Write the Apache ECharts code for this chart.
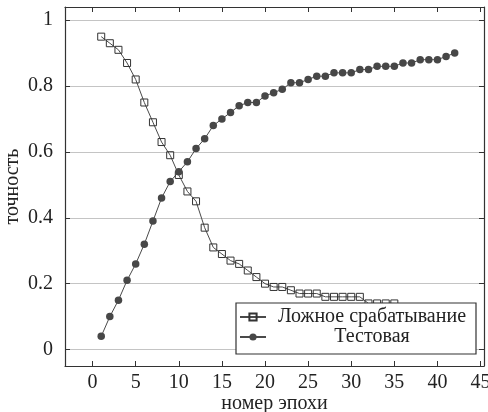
<!DOCTYPE html>
<html>
<head>
<meta charset="utf-8">
<script src="https://cdn.jsdelivr.net/npm/echarts@6/dist/echarts.min.js"></script>
<style>
  html, body { margin: 0; padding: 0; background: #fff; }
  #chart { width: 488px; height: 412px; }
</style>
</head>
<body>
<div id="chart"></div>
<script>
// Epoch numbers for each curve
const epochsFalse = [1,2,3,4,5,6,7,8,9,10,11,12,13,14,15,16,17,18,19,20,21,22,23,24,25,26,27,28,29,30,31,32,33,34,35];
const epochsTest = [1,2,3,4,5,6,7,8,9,10,11,12,13,14,15,16,17,18,19,20,21,22,23,24,25,26,27,28,29,30,31,32,33,34,35,36,37,38,39,40,41,42];

// False-positive rate per epoch
const falseAlarm = [0.95,0.93,0.91,0.87,0.82,0.75,0.69,0.63,0.59,0.53,0.48,0.45,0.37,0.31,0.29,0.27,0.26,0.24,0.22,0.20,0.19,0.19,0.18,0.17,0.17,0.17,0.16,0.16,0.16,0.16,0.16,0.14,0.14,0.14,0.14];
// Test accuracy per epoch
const testAcc = [0.04,0.10,0.15,0.21,0.26,0.32,0.39,0.46,0.51,0.54,0.57,0.61,0.64,0.68,0.70,0.72,0.74,0.75,0.75,0.77,0.78,0.79,0.81,0.81,0.82,0.83,0.83,0.84,0.84,0.84,0.85,0.85,0.86,0.86,0.86,0.87,0.87,0.88,0.88,0.88,0.89,0.90];

const seriesNames = ['Ложное срабатывание', 'Тестовая'];
const xTitle = 'номер эпохи';
const yTitle = 'точность';

const FONT = 'Liberation Serif';
const INK = '#222';
const AXIS = '#333';
const LINE = '#4a4a4a';

const xRange = [-3.2, 45.4];
const yRange = [-0.05, 1.04];

const pairs = (xs, ys) => ys.map((v, i) => [xs[i], v]);

const chart = echarts.init(document.getElementById('chart'), null, { renderer: 'canvas' });

const frameAxis = {
  axisLine: { show: true, onZero: false, lineStyle: { color: AXIS, width: 1.2 } },
  axisTick: { show: true, inside: true, length: 5, lineStyle: { color: AXIS, width: 1 } },
  axisLabel: { show: false },
  splitLine: { show: false }
};

chart.setOption({
  backgroundColor: '#fff',
  animation: false,
  grid: { left: 65, right: 4, top: 7, bottom: 46, containLabel: false, outerBoundsMode: 'none' },
  xAxis: [
    {
      type: 'value', position: 'bottom',
      min: xRange[0], max: xRange[1],
      splitNumber: 10, minInterval: 5, maxInterval: 5,
      name: xTitle, nameLocation: 'middle', nameGap: 28, nameMoveOverlap: false,
      nameTextStyle: { fontFamily: FONT, fontSize: 20, color: INK },
      axisLine: { show: true, onZero: false, lineStyle: { color: AXIS, width: 1.2 } },
      axisTick: { show: true, inside: true, length: 5, lineStyle: { color: AXIS, width: 1 } },
      axisLabel: { show: true, showMinLabel: false, showMaxLabel: false, margin: 7,
        fontFamily: FONT, fontSize: 20, color: INK, hideOverlap: false },
      splitLine: { show: false }
    },
    Object.assign({ type: 'value', position: 'top', min: xRange[0], max: xRange[1],
      splitNumber: 10, minInterval: 5, maxInterval: 5 }, frameAxis)
  ],
  yAxis: [
    {
      type: 'value', position: 'left',
      min: yRange[0], max: yRange[1],
      splitNumber: 5, minInterval: 0.2, maxInterval: 0.2,
      name: yTitle, nameLocation: 'middle', nameGap: 42, nameRotate: 90, nameMoveOverlap: false,
      nameTextStyle: { fontFamily: FONT, fontSize: 20, color: INK },
      axisLine: { show: true, onZero: false, lineStyle: { color: AXIS, width: 1.2 } },
      axisTick: { show: true, inside: true, length: 5, lineStyle: { color: AXIS, width: 1 } },
      axisLabel: { show: true, showMinLabel: false, showMaxLabel: false, margin: 12,
        fontFamily: FONT, fontSize: 20, color: INK },
      splitLine: { show: true, lineStyle: { color: '#c4c4c4', width: 1 } }
    },
    Object.assign({ type: 'value', position: 'right', min: yRange[0], max: yRange[1],
      splitNumber: 5, minInterval: 0.2, maxInterval: 0.2 }, frameAxis)
  ],
  legend: {
    orient: 'vertical',
    left: 236, top: 303,
    padding: [4, 3, 7, 3],
    itemGap: 0,
    itemWidth: 26, itemHeight: 9,
    backgroundColor: '#fff',
    borderColor: AXIS, borderWidth: 1.2,
    selectedMode: false,
    formatter: name => '{t|' + name + '}',
    textStyle: {
      fontFamily: FONT, fontSize: 20, color: INK,
      rich: { t: { width: 202, align: 'center', fontFamily: FONT, fontSize: 20, color: INK, lineHeight: 20 } }
    },
    data: seriesNames
  },
  series: [
    {
      name: seriesNames[0],
      type: 'line',
      data: pairs(epochsFalse, falseAlarm),
      symbol: 'rect', symbolSize: 7,
      showAllSymbol: true,
      lineStyle: { color: LINE, width: 1 },
      itemStyle: { color: 'rgba(255,255,255,0)', borderColor: '#333', borderWidth: 1 },
      emphasis: { disabled: true },
      z: 3
    },
    {
      name: seriesNames[1],
      type: 'line',
      data: pairs(epochsTest, testAcc),
      symbol: 'circle', symbolSize: 7.5,
      showAllSymbol: true,
      lineStyle: { color: LINE, width: 1 },
      itemStyle: { color: '#474747', borderWidth: 0 },
      emphasis: { disabled: true },
      z: 3
    }
  ]
});
</script>
</body>
</html>
